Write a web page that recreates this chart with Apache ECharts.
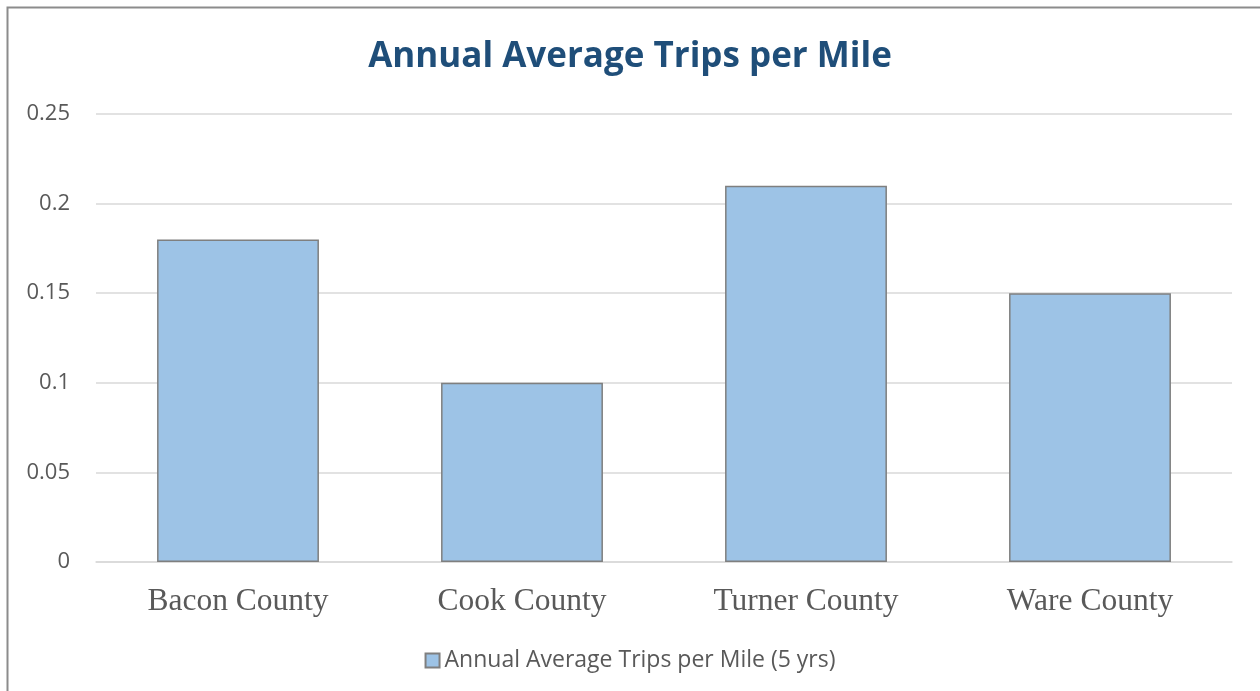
<!DOCTYPE html>
<html>
<head>
<meta charset="utf-8">
<script src="https://cdn.jsdelivr.net/npm/echarts@6/dist/echarts.min.js"></script>
<style>
  html, body { margin: 0; padding: 0; background: #fff; }
  #chart { width: 1260px; height: 691px; }
</style>
</head>
<body>
<div id="chart"></div>
<script>
// Counties and their annual average trips per mile
const counties = ['Bacon County', 'Cook County', 'Turner County', 'Ware County'];
const tripsPerMile = [0.18, 0.10, 0.21, 0.15];
const seriesName = 'Annual Average Trips per Mile (5 yrs)';
const chartTitle = 'Annual Average Trips per Mile';

const chart = echarts.init(document.getElementById('chart'), null, { renderer: 'canvas' });

chart.setOption({
  backgroundColor: '#ffffff',
  animation: false,
  graphic: [{
    type: 'rect',
    shape: { x: 7.5, y: 7.5, width: 1270, height: 700 },
    style: { fill: 'none', stroke: '#8c8c8c', lineWidth: 2 },
    silent: true
  }],
  title: {
    text: chartTitle,
    left: 'center',
    top: 35,
    textStyle: {
      fontFamily: 'Open Sans',
      fontWeight: 'bold',
      fontSize: 35,
      color: '#1F4E79'
    }
  },
  legend: {
    bottom: 14,
    left: 'center',
    itemWidth: 14,
    itemHeight: 14,
    itemGap: 6,
    icon: 'rect',
    textStyle: { fontFamily: 'Open Sans', fontSize: 23, color: '#595959', padding: [0, 0, 0, 0] },
    data: [seriesName]
  },
  grid: { left: 96, right: 28, top: 114, bottom: 129 },
  xAxis: {
    type: 'category',
    data: counties,
    axisTick: { show: false },
    axisLine: { lineStyle: { color: '#D9D9D9', width: 1.5 } },
    axisLabel: {
      fontFamily: 'Liberation Serif',
      fontSize: 31.5,
      color: '#595959',
      margin: 24
    }
  },
  yAxis: {
    type: 'value',
    min: 0,
    max: 0.25,
    interval: 0.05,
    axisLine: { show: false },
    axisTick: { show: false },
    splitLine: { lineStyle: { color: '#D9D9D9', width: 1.5 } },
    axisLabel: {
      fontFamily: 'Open Sans',
      fontSize: 22,
      color: '#595959',
      margin: 26,
      formatter: v => String(parseFloat(v.toFixed(2)))
    }
  },
  series: [{
    name: seriesName,
    type: 'bar',
    data: tripsPerMile,
    barCategoryGap: '43%',
    itemStyle: {
      color: '#9DC3E6',
      borderColor: '#7F7F7F',
      borderWidth: 1.5
    }
  }]
});
</script>
</body>
</html>
